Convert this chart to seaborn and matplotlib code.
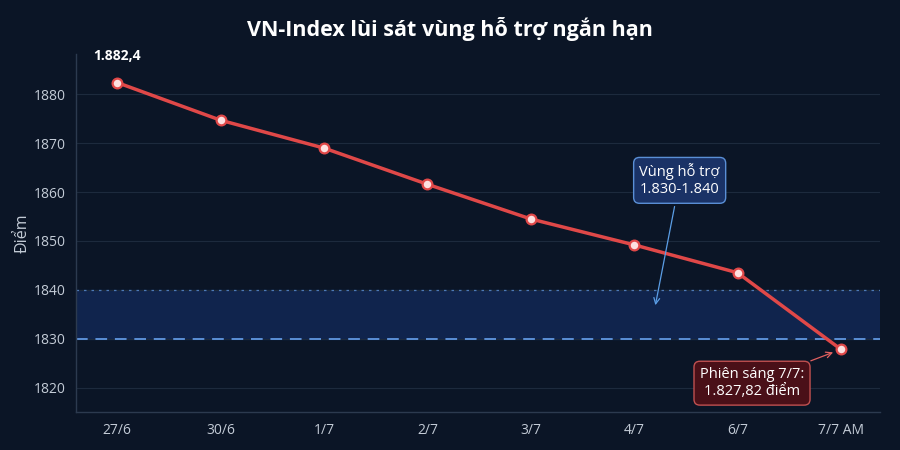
import matplotlib
matplotlib.use("Agg")
import matplotlib.pyplot as plt
import seaborn as sns
import pandas as pd

dates = ["27/6", "30/6", "1/7", "2/7", "3/7", "4/7", "6/7", "7/7 AM"]
values = [1882.4, 1874.7, 1869.0, 1861.6, 1854.5, 1849.2, 1843.5, 1827.82]
support_low = 1830
support_high = 1840
yticks = [1820, 1830, 1840, 1850, 1860, 1870, 1880]

BG = "#0b1526"
sns.set_theme(style="dark")
plt.rcParams['font.family'] = ['Open Sans', 'Noto Sans', 'DejaVu Sans']

df = pd.DataFrame({"date": dates, "value": values})
df["pos"] = range(len(dates))

fig = plt.figure(figsize=(9, 4.5), dpi=100, facecolor=BG)
ax = fig.add_axes([0.0844, 0.0844, 0.8936, 0.795])
ax.set_facecolor(BG)

ax.axhspan(support_low, support_high, color="#10244d", zorder=0)
ax.axhline(support_low, color="#5b8fd6", lw=1.4, ls=(0, (6, 4)), zorder=1)
ax.axhline(support_high, color="#5b8fd6", lw=0.9, ls=(0, (2, 4)), alpha=0.8, zorder=1)

for t in yticks:
    ax.axhline(t, color="#1d2a3d", lw=0.8, zorder=0.5)

sns.lineplot(data=df, x="pos", y="value", ax=ax, color="#e04848", lw=2.5,
             marker="o", markersize=7, markerfacecolor="#fde0e0",
             markeredgecolor="#e04848", markeredgewidth=1.6, zorder=3)

ax.set_xlim(-0.4, 7.38)
ax.set_ylim(1815, 1888.2)
ax.set_xticks(range(len(dates)))
ax.set_xticklabels(dates)
ax.set_yticks(yticks)
ax.tick_params(axis="both", colors="#c3cbd6", labelsize=10, length=4, width=0.8)
ax.tick_params(axis="x", length=0, pad=8)
ax.set_xlabel("")
ax.set_ylabel("Điểm", color="#c3cbd6", fontsize=11.5, labelpad=2)
ax.grid(False)
for s in ["top", "right"]:
    ax.spines[s].set_visible(False)
for s in ["left", "bottom"]:
    ax.spines[s].set_color("#2c3a4f")
    ax.spines[s].set_linewidth(1)

ax.annotate("1.882,4", xy=(0, values[0]), xytext=(0, 14), textcoords="offset points",
            ha="center", va="bottom", color="white", fontsize=10, fontweight="bold")

ax.annotate("Vùng hỗ trợ\n1.830-1.840", xy=(5.2, 1836.3), xytext=(5.44, 1862.4),
            ha="center", va="center", color="white", fontsize=10.5,
            bbox=dict(boxstyle="round,pad=0.4", fc="#1a3266", ec="#5a8fd6", lw=1),
            arrowprops=dict(arrowstyle="->", color="#5b9ee6", lw=0.9), zorder=5)

ax.annotate("Phiên sáng 7/7:\n1.827,82 điểm", xy=(7, values[-1]), xytext=(6.14, 1820.9),
            ha="center", va="center", color="white", fontsize=10.5,
            bbox=dict(boxstyle="round,pad=0.4", fc="#4a1018", ec="#c05050", lw=1),
            arrowprops=dict(arrowstyle="->", color="#e06060", lw=0.9,
                            shrinkB=6), zorder=5)

fig.suptitle("VN-Index lùi sát vùng hỗ trợ ngắn hạn", color="white", fontsize=15.5,
             fontweight="bold", y=0.962)

fig.savefig("out.png", dpi=100, facecolor=BG)
